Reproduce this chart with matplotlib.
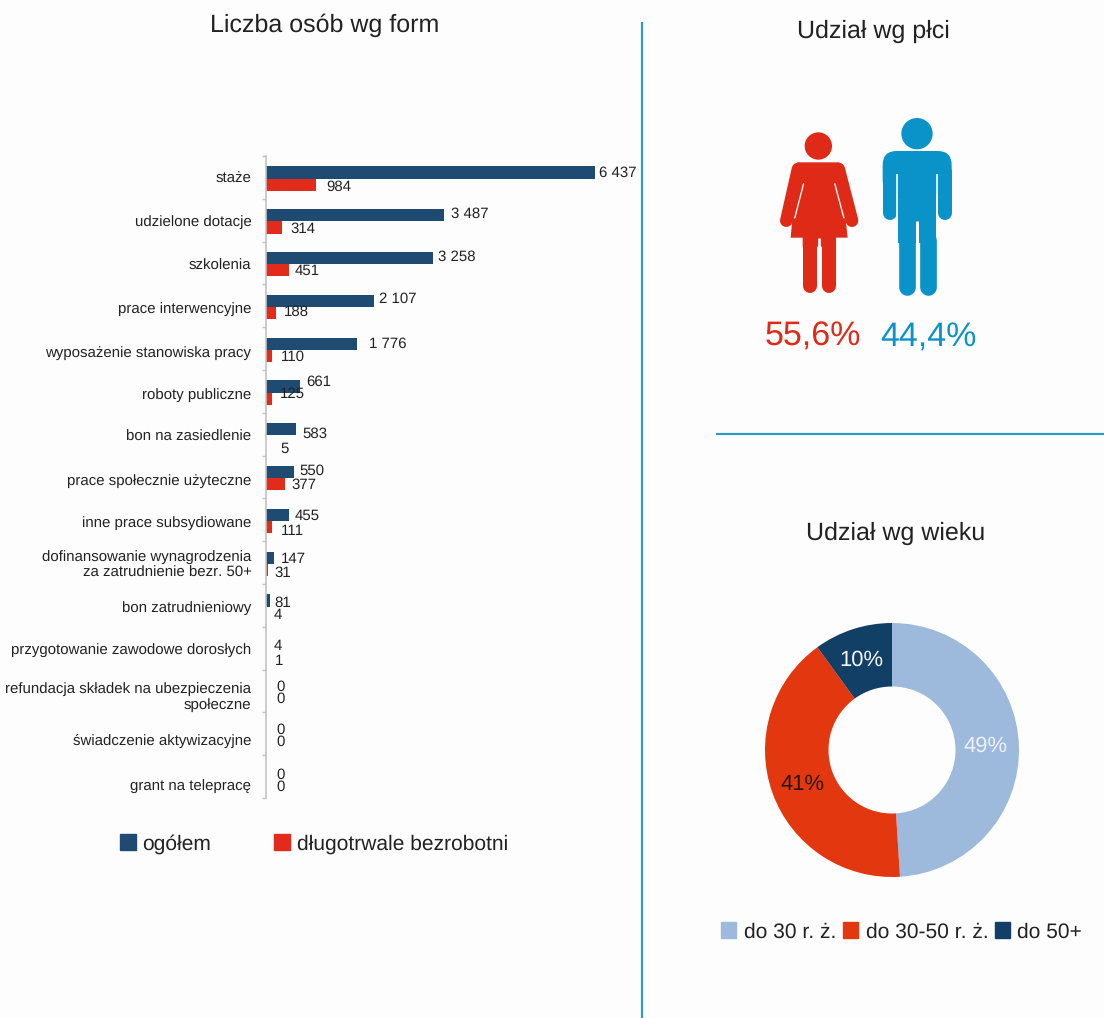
import matplotlib
matplotlib.use("Agg")
import matplotlib.pyplot as plt
from matplotlib.patches import Circle, Polygon, FancyBboxPatch, Patch

plt.rcParams['font.family'] = ['Liberation Sans', 'DejaVu Sans']
plt.rcParams['text.hinting'] = 'no_hinting'
plt.rcParams['text.hinting_factor'] = 1

categories = ["staże", "udzielone dotacje", "szkolenia", "prace interwencyjne",
              "wyposażenie stanowiska pracy", "roboty publiczne", "bon na zasiedlenie",
              "prace społecznie użyteczne", "inne prace subsydiowane",
              "dofinansowanie wynagrodzenia\nza zatrudnienie bezr. 50+", "bon zatrudnieniowy",
              "przygotowanie zawodowe dorosłych",
              "refundacja składek na ubezpieczenia\nspołeczne",
              "świadczenie aktywizacyjne", "grant na telepracę"]
ogolem = [6437, 3487, 3258, 2107, 1776, 661, 583, 550, 455, 147, 81, 4, 0, 0, 0]
dlugotrwale = [984, 314, 451, 188, 110, 125, 5, 377, 111, 31, 4, 1, 0, 0, 0]
age_labels = ["do 30 r. ż.", "do 30-50 r. ż.", "do 50+"]
age_values = [49, 41, 10]
gender_values = ["55,6%", "44,4%"]

# label anchor positions in figure pixels (left edge, vertical centre)
og_lab_x = [599, 451, 438, 379, 369, 306, 302, 299, 295, 281, 274, 274, 276, 276, 276]
og_lab_y = [173, 214, 257, 299, 344, 382, 434, 471, 516, 559, 603, 646, 687, 730, 775]
dl_lab_x = [326, 290, 295, 284, 281, 280, 280, 291, 281, 274, 274, 275, 276, 276, 276]
dl_lab_y = [187, 229, 271, 312, 357, 394, 449, 485, 531, 573, 615, 661, 699, 742, 787]
cat_lab_y = [177, 220, 264, 307, 351, 393, 435, 479, 521, 562, 606, 648, 694, 739, 785]

NAVY = '#1F4A72'
RED = '#E32B1B'
WOMAN = '#DF2A17'
MAN = '#0A93C9'
RULE = '#2F9BC3'
INK = '#222222'
W, H = 1104, 1018
BG = '#FDFDFD'

fig = plt.figure(figsize=(W / 100, H / 100), dpi=100, facecolor=BG)


def rect(l, t, r, b):
    return [l / W, 1 - b / H, (r - l) / W, (b - t) / H]


# ---------- bars
TOP, BOTTOM = 156, 798
ax = fig.add_axes(rect(266, TOP, 640, BOTTOM), facecolor='none')
n = len(categories)
pos = list(range(n))
row = (BOTTOM - TOP) / n
bh = 0.285
shift = 0.03
ax.barh([p - bh / 2 + shift for p in pos], ogolem, height=bh, color=NAVY, linewidth=0)
ax.barh([p + bh / 2 + shift for p in pos], dlugotrwale, height=bh, color=RED, linewidth=0)
ax.set_xlim(0, 374 / (329 / 6437))
ax.set_ylim(n - 0.5, -0.5)
for s in ('top', 'right', 'bottom'):
    ax.spines[s].set_visible(False)
ax.spines['left'].set_color('#C4C4C4')
ax.spines['left'].set_linewidth(1.2)
ax.set_xticks([])
ax.set_yticks([(y - TOP) / row - 0.5 for y in cat_lab_y])
ax.set_yticklabels(categories, fontsize=10.7, color=INK, linespacing=1.2)
ax.tick_params(axis='y', which='major', length=0, pad=10.5)
ax.set_yticks([p - 0.5 for p in range(n + 1)], minor=True)
ax.tick_params(axis='y', which='minor', length=3, color='#C4C4C4', width=1)

# ---------- overlay in pixel coordinates
ov = fig.add_axes([0, 0, 1, 1], facecolor='none')
ov.set_xlim(0, W)
ov.set_ylim(H, 0)
ov.axis('off')
ov.set_zorder(5)


def fmt(v):
    return f"{v:,}".replace(",", " ")


for v, x, y in zip(ogolem, og_lab_x, og_lab_y):
    ov.text(x, y, fmt(v), fontsize=10.7, color=INK, ha='left', va='center')
for v, x, y in zip(dlugotrwale, dl_lab_x, dl_lab_y):
    ov.text(x, y, fmt(v), fontsize=10.7, color=INK, ha='left', va='center')

# titles
ov.text(325, 25, "Liczba osób wg form", fontsize=18.2, color=INK, ha='center', va='center')
ov.text(873, 31, "Udział wg płci", fontsize=18.2, color=INK, ha='center', va='center')
ov.text(896, 533, "Udział wg wieku", fontsize=18.2, color=INK, ha='center', va='center')

# dividers
ov.plot([642, 642], [22, 1018], color=RULE, lw=1.6, solid_capstyle='butt')
ov.plot([716, 1104], [434, 434], color=RULE, lw=1.6, solid_capstyle='butt')


# ---------- pictograms (reference zoom coords -> figure pixels)
def zx(x):
    return 720 + x / 3


def zy(y):
    return 100 + y / 3


def stroke(pts, width, color, cap='round', z=3):
    ov.plot([zx(p[0]) for p in pts], [zy(p[1]) for p in pts], color=color,
            lw=width / 3 * 0.72, solid_capstyle=cap, zorder=z)


# woman
ov.add_patch(Circle((zx(295), zy(138)), 41 / 3, color=WOMAN, lw=0, zorder=3))
ov.add_patch(Polygon([(zx(a), zy(b)) for a, b in
                      [(232, 187), (358, 187), (383, 413), (348, 413), (348, 440),
                       (248, 440), (248, 413), (212, 413)]],
                     closed=True, color=WOMAN, lw=0, zorder=3))
stroke([(234, 207), (199, 362)], 38, WOMAN)
stroke([(356, 207), (396, 362)], 38, WOMAN)
stroke([(269, 430), (269, 559)], 42, WOMAN)
stroke([(326, 430), (326, 559)], 42, WOMAN)
stroke([(251, 250), (224, 355)], 4, BG, cap='butt', z=4)
stroke([(344, 250), (372, 355)], 4, BG, cap='butt', z=4)
stroke([(297, 413), (297, 570)], 8, BG, cap='butt', z=4)

# man
ov.add_patch(Circle((zx(591), zy(101)), 47 / 3, color=MAN, lw=0, zorder=3))
ov.add_patch(FancyBboxPatch((zx(530), zy(195)), (653 - 530) / 3, (240 - 195) / 3,
                            boxstyle=f"round,pad={42 / 3}", color=MAN, lw=0, zorder=3))
ov.add_patch(Polygon([(zx(a), zy(b)) for a, b in
                      [(535, 220), (648, 220), (648, 430), (535, 430)]],
                     closed=True, color=MAN, lw=0, zorder=3))
stroke([(509, 215), (509, 340)], 42, MAN)
stroke([(675, 215), (675, 340)], 42, MAN)
stroke([(560, 420), (560, 560)], 50, MAN)
stroke([(623, 420), (623, 560)], 50, MAN)
stroke([(532, 222), (532, 365)], 5, BG, cap='butt', z=4)
stroke([(651, 222), (651, 365)], 5, BG, cap='butt', z=4)
stroke([(592, 362), (592, 575)], 9, BG, cap='butt', z=4)

ov.text(813, 337, gender_values[0], fontsize=24.5, color=WOMAN, ha='center', va='center')
ov.text(928, 337, gender_values[1], fontsize=24.5, color=MAN, ha='center', va='center')

# ---------- donut
pie_ax = fig.add_axes(rect(892 - 127, 750 - 127, 892 + 127, 750 + 127), facecolor='none')
age_colors = ['#9DB9DC', '#E3380F', '#123F66']
pie_ax.pie(age_values, startangle=90, counterclock=False, colors=age_colors, radius=1,
           wedgeprops=dict(width=0.5, edgecolor='none', linewidth=0))
pie_ax.set_xlim(-1, 1)
pie_ax.set_ylim(-1, 1)
ov.text(986, 746, f"{age_values[0]}%", fontsize=16, color='#EDF1F7', ha='center', va='center')
ov.text(803, 784, f"{age_values[1]}%", fontsize=16, color='#2A1510', ha='center', va='center')
ov.text(861, 660, f"{age_values[2]}%", fontsize=15.5, color='#F4F6F9', ha='center', va='center')

# ---------- legends
leg1 = ov.legend(handles=[Patch(color=NAVY, label='ogółem'),
                          Patch(color=RED, label='długotrwale bezrobotni')],
                 loc='center left', bbox_to_anchor=(120 / W, 1 - 844 / H), ncol=2, frameon=False,
                 fontsize=15.2, handlelength=0.75, handleheight=0.75, handletextpad=0.3,
                 columnspacing=3.0, labelcolor=INK, borderpad=0, borderaxespad=0)
ov.add_artist(leg1)
ov.legend(handles=[Patch(color=c, label=l) for c, l in zip(age_colors, age_labels)],
          loc='center left', bbox_to_anchor=(721 / W, 1 - 932 / H), ncol=3, frameon=False,
          fontsize=15.4, handlelength=0.72, handleheight=0.72, handletextpad=0.35,
          columnspacing=0.3, labelcolor=INK, borderpad=0, borderaxespad=0)

fig.savefig("out.png", dpi=100, facecolor=BG)
